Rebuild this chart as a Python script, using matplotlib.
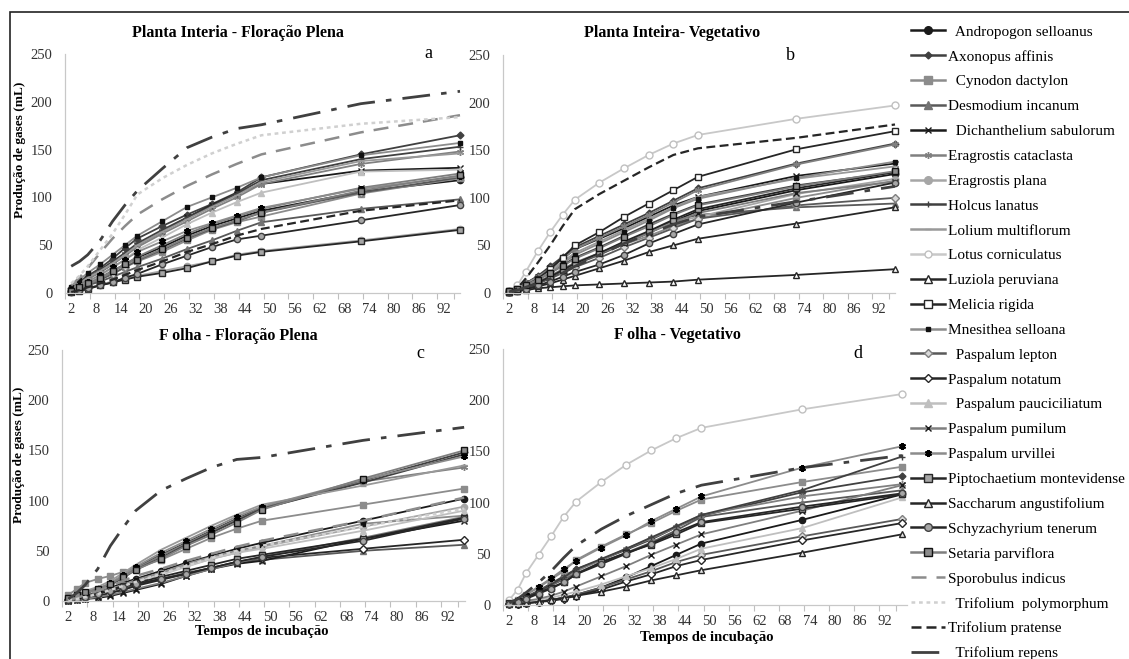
import matplotlib.pyplot as plt
from matplotlib.lines import Line2D
from matplotlib.patches import Rectangle

plt.rcParams['font.family'] = ['Liberation Serif', 'DejaVu Serif']

W, H = 1129, 659

tempos = [2, 4, 6, 9, 12, 15, 18, 24, 30, 36, 42, 48, 72, 96]
x_labels = list(range(2, 93, 6))
y_labels = [0, 50, 100, 150, 200, 250]

especies = ['Andropogon selloanus', 'Axonopus affinis', 'Cynodon dactylon', 'Desmodium incanum',
            'Dichanthelium sabulorum', 'Eragrostis cataclasta', 'Eragrostis plana', 'Holcus lanatus',
            'Lolium multiflorum', 'Lotus corniculatus', 'Luziola peruviana', 'Melicia rigida',
            'Mnesithea selloana', 'Paspalum lepton', 'Paspalum notatum', 'Paspalum pauciciliatum',
            'Paspalum pumilum', 'Paspalum urvillei', 'Piptochaetium montevidense',
            'Saccharum angustifolium', 'Schyzachyrium tenerum', 'Setaria parviflora',
            'Sporobulus indicus', 'Trifolium polymorphum', 'Trifolium pratense', 'Trifolium repens']
# legenda do original (alguns nomes com espaco na frente)
legenda = ['  Andropogon selloanus', 'Axonopus affinis', '  Cynodon dactylon', 'Desmodium incanum',
           '  Dichanthelium sabulorum', 'Eragrostis cataclasta', 'Eragrostis plana', 'Holcus lanatus',
           'Lolium multiflorum', 'Lotus corniculatus', 'Luziola peruviana', 'Melicia rigida',
           'Mnesithea selloana', '  Paspalum lepton', 'Paspalum notatum', '  Paspalum pauciciliatum',
           'Paspalum pumilum', 'Paspalum urvillei', 'Piptochaetium montevidense',
           'Saccharum angustifolium', 'Schyzachyrium tenerum', 'Setaria parviflora',
           'Sporobulus indicus', '  Trifolium  polymorphum', 'Trifolium pratense', '  Trifolium repens']

# a - Planta inteira, floracao plena
planta_floracao = {
    'Andropogon selloanus': [2, 6, 10, 16, 23, 30, 37, 48, 60, 70, 78, 86, 106, 118],
    'Axonopus affinis': [5, 12, 18, 26, 36, 47, 57, 70, 82, 93, 105, 121, 145, 165],
    'Cynodon dactylon': [2, 5, 9, 14, 20, 27, 33, 43, 55, 66, 74, 80, 104, 120],
    'Desmodium incanum': [2, 5, 8, 12, 17, 22, 27, 36, 46, 55, 65, 74, 88, 98],
    'Dichanthelium sabulorum': [2, 8, 15, 22, 30, 40, 50, 64, 79, 92, 104, 114, 128, 131],
    'Eragrostis cataclasta': [3, 9, 14, 22, 30, 39, 48, 62, 75, 88, 100, 114, 135, 148],
    'Eragrostis plana': [1, 3, 5, 9, 12, 15, 18, 23, 28, 33, 40, 44, 55, 67],
    'Holcus lanatus': [4, 10, 16, 24, 33, 42, 52, 66, 79, 91, 104, 118, 140, 153],
    'Lolium multiflorum': [4, 10, 16, 23, 31, 40, 50, 64, 77, 90, 102, 116, 138, 146],
    'Mnesithea selloana': [6, 14, 21, 30, 40, 50, 60, 75, 90, 100, 110, 121, 144, 157],
    'Paspalum lepton': [2, 5, 9, 14, 20, 27, 34, 45, 57, 67, 75, 84, 105, 121],
    'Paspalum pauciciliatum': [2, 6, 11, 18, 26, 35, 45, 58, 72, 84, 95, 105, 127, 129],
    'Paspalum pumilum': [2, 5, 9, 15, 22, 30, 38, 50, 62, 72, 80, 88, 110, 125],
    'Paspalum urvillei': [3, 7, 12, 19, 27, 35, 43, 54, 65, 73, 81, 89, 109, 122],
    'Piptochaetium montevidense': [1, 2, 4, 8, 11, 14, 17, 21, 26, 33, 39, 43, 54, 66],
    'Schyzachyrium tenerum': [1, 3, 5, 8, 11, 16, 20, 30, 39, 48, 56, 60, 76, 92],
    'Setaria parviflora': [2, 6, 10, 16, 23, 30, 35, 46, 58, 68, 76, 84, 107, 123],
    'Sporobulus indicus': [8, 16, 26, 42, 57, 70, 82, 98, 112, 124, 135, 145, 168, 186],
    'Trifolium polymorphum': [10, 18, 28, 45, 62, 82, 103, 120, 134, 146, 156, 165, 177, 184],
    'Trifolium pratense': [1, 3, 6, 10, 14, 19, 24, 33, 43, 51, 60, 67, 86, 97],
    'Trifolium repens': [28, 33, 40, 55, 75, 92, 107, 130, 152, 163, 172, 176, 198, 211],
}

# b - Planta inteira, vegetativo
planta_vegetativo = {
    'Andropogon selloanus': [1, 3, 6, 10, 16, 23, 30, 41, 52, 63, 75, 86, 108, 125],
    'Axonopus affinis': [2, 5, 10, 18, 28, 38, 48, 60, 72, 84, 97, 110, 136, 157],
    'Cynodon dactylon': [1, 3, 6, 11, 17, 24, 31, 41, 51, 60, 70, 78, 100, 118],
    'Desmodium incanum': [1, 3, 6, 11, 17, 24, 30, 40, 52, 64, 76, 82, 90, 94],
    'Dichanthelium sabulorum': [2, 5, 10, 17, 26, 36, 46, 57, 68, 80, 92, 101, 123, 136],
    'Eragrostis cataclasta': [2, 5, 10, 17, 26, 36, 46, 58, 70, 82, 95, 108, 135, 156],
    'Eragrostis plana': [1, 3, 6, 11, 17, 24, 31, 42, 53, 64, 74, 80, 104, 120],
    'Holcus lanatus': [2, 4, 8, 14, 21, 29, 37, 48, 60, 72, 83, 93, 113, 127],
    'Lolium multiflorum': [2, 5, 9, 16, 24, 33, 42, 54, 66, 78, 90, 101, 120, 133],
    'Lotus corniculatus': [2, 8, 22, 44, 64, 82, 98, 116, 131, 145, 157, 166, 183, 197],
    'Luziola peruviana': [1, 2, 3, 5, 6, 7, 8, 9, 10, 11, 12, 14, 19, 25],
    'Melicia rigida': [2, 4, 8, 15, 25, 37, 50, 64, 80, 94, 108, 122, 151, 170],
    'Mnesithea selloana': [2, 4, 8, 14, 22, 31, 40, 52, 64, 76, 89, 99, 121, 138],
    'Paspalum lepton': [1, 3, 6, 10, 15, 21, 27, 37, 48, 58, 68, 78, 92, 100],
    'Paspalum pumilum': [1, 3, 7, 12, 18, 25, 32, 42, 52, 63, 74, 84, 105, 117],
    'Piptochaetium montevidense': [1, 3, 6, 11, 17, 24, 31, 42, 54, 65, 77, 88, 110, 127],
    'Saccharum angustifolium': [1, 2, 4, 7, 10, 14, 18, 26, 34, 43, 50, 57, 73, 90],
    'Schyzachyrium tenerum': [1, 2, 4, 8, 12, 17, 22, 30, 40, 52, 62, 72, 95, 116],
    'Setaria parviflora': [2, 4, 8, 14, 21, 28, 36, 47, 59, 70, 82, 92, 112, 128],
    'Trifolium pratense': [1, 5, 15, 32, 50, 70, 88, 104, 118, 132, 145, 152, 163, 177],
    'Trifolium repens': [1, 3, 6, 10, 15, 21, 28, 40, 52, 62, 72, 80, 96, 112],
}

# c - Folha, floracao plena
folha_floracao = {
    'Andropogon selloanus': [1, 3, 5, 9, 13, 18, 22, 30, 38, 45, 52, 58, 80, 102],
    'Axonopus affinis': [2, 5, 8, 12, 17, 25, 33, 46, 58, 70, 82, 93, 120, 148],
    'Cynodon dactylon': [6, 12, 18, 22, 25, 29, 33, 41, 52, 63, 72, 80, 96, 112],
    'Desmodium incanum': [1, 2, 3, 5, 8, 12, 16, 22, 28, 33, 38, 41, 50, 56],
    'Dichanthelium sabulorum': [0, 1, 2, 3, 5, 8, 11, 17, 25, 32, 37, 40, 62, 80],
    'Eragrostis cataclasta': [2, 5, 8, 12, 17, 24, 32, 45, 57, 69, 81, 92, 119, 133],
    'Eragrostis plana': [1, 3, 5, 8, 12, 16, 20, 28, 35, 42, 48, 54, 74, 94],
    'Holcus lanatus': [2, 5, 8, 11, 16, 23, 31, 43, 56, 68, 80, 92, 118, 146],
    'Lolium multiflorum': [2, 6, 10, 14, 20, 28, 36, 51, 63, 75, 86, 96, 115, 135],
    'Mnesithea selloana': [1, 3, 5, 8, 12, 16, 21, 28, 37, 44, 50, 55, 77, 85],
    'Paspalum notatum': [1, 2, 3, 5, 8, 11, 15, 21, 27, 33, 39, 43, 52, 61],
    'Paspalum pauciciliatum': [1, 2, 4, 7, 10, 14, 18, 26, 34, 42, 48, 52, 70, 90],
    'Paspalum pumilum': [0, 1, 2, 4, 6, 9, 12, 18, 25, 32, 38, 44, 63, 84],
    'Paspalum urvillei': [2, 5, 8, 12, 18, 26, 34, 48, 60, 72, 84, 94, 121, 144],
    'Piptochaetium montevidense': [1, 3, 5, 8, 11, 15, 18, 24, 30, 36, 42, 46, 62, 83],
    'Schyzachyrium tenerum': [1, 2, 4, 7, 10, 14, 17, 22, 27, 33, 39, 44, 60, 82],
    'Setaria parviflora': [3, 6, 9, 12, 17, 24, 31, 42, 55, 66, 78, 91, 122, 150],
    'Sporobulus indicus': [1, 3, 6, 10, 15, 20, 25, 32, 40, 47, 54, 60, 80, 103],
    'Trifolium polymorphum': [1, 2, 4, 7, 11, 15, 19, 27, 35, 43, 50, 55, 74, 92],
    'Trifolium repens': [2, 8, 16, 32, 55, 73, 90, 110, 122, 133, 141, 143, 160, 173],
}

# d - Folha, vegetativo
folha_vegetativo = {
    'Andropogon selloanus': [1, 1, 2, 3, 5, 7, 10, 17, 27, 38, 49, 60, 83, 108],
    'Axonopus affinis': [2, 4, 8, 14, 21, 28, 35, 44, 54, 64, 76, 87, 110, 126],
    'Cynodon dactylon': [2, 5, 10, 17, 25, 33, 44, 57, 69, 80, 92, 103, 120, 135],
    'Desmodium incanum': [2, 4, 8, 13, 19, 25, 31, 41, 51, 61, 73, 86, 100, 112],
    'Eragrostis cataclasta': [2, 4, 8, 13, 20, 26, 33, 44, 55, 65, 76, 88, 106, 118],
    'Holcus lanatus': [2, 4, 8, 13, 20, 27, 35, 45, 55, 66, 77, 88, 112, 145],
    'Lotus corniculatus': [5, 15, 31, 49, 67, 86, 101, 120, 137, 151, 163, 173, 191, 206],
    'Paspalum lepton': [1, 1, 2, 3, 5, 7, 10, 17, 25, 33, 42, 49, 67, 84],
    'Paspalum notatum': [1, 1, 2, 3, 4, 6, 9, 15, 23, 30, 38, 44, 63, 80],
    'Paspalum pauciciliatum': [1, 2, 3, 5, 7, 10, 13, 20, 28, 36, 45, 55, 75, 105],
    'Paspalum pumilum': [1, 2, 4, 6, 9, 13, 18, 28, 38, 49, 59, 69, 92, 117],
    'Paspalum urvillei': [2, 5, 10, 18, 26, 35, 43, 56, 68, 82, 94, 106, 134, 155],
    'Piptochaetium montevidense': [2, 3, 7, 12, 17, 22, 30, 42, 51, 59, 69, 80, 94, 108],
    'Saccharum angustifolium': [1, 1, 2, 3, 5, 7, 9, 13, 18, 24, 29, 34, 51, 69],
    'Schyzachyrium tenerum': [1, 3, 6, 11, 16, 22, 30, 40, 50, 60, 71, 81, 96, 109],
    'Trifolium repens': [2, 6, 12, 22, 33, 46, 58, 74, 87, 98, 109, 117, 134, 146],
}

ASTER = (6, 2, 0)
estilos = {
    'Andropogon selloanus': dict(color='#1a1a1a', marker='o', mfc='#1a1a1a', mec='#1a1a1a'),
    'Axonopus affinis': dict(color='#404040', marker='D', mfc='#404040', mec='#404040', ms=3.5),
    'Cynodon dactylon': dict(color='#8c8c8c', marker='s', mfc='#8c8c8c', mec='#8c8c8c'),
    'Desmodium incanum': dict(color='#595959', marker='^', mfc='#737373', mec='#737373'),
    'Dichanthelium sabulorum': dict(color='#1a1a1a', marker='x', mec='#1a1a1a', ms=5),
    'Eragrostis cataclasta': dict(color='#808080', marker=ASTER, mec='#808080', ms=5),
    'Eragrostis plana': dict(color='#a6a6a6', marker='o', mfc='#a6a6a6', mec='#a6a6a6'),
    'Holcus lanatus': dict(color='#404040', marker='+', mec='#404040', ms=5),
    'Lolium multiflorum': dict(color='#999999', marker='_', mec='#999999', ms=5),
    'Lotus corniculatus': dict(color='#c8c8c8', marker='o', mfc='white', mec='#c0c0c0', ms=5),
    'Luziola peruviana': dict(color='#262626', marker='^', mfc='white', mec='#262626'),
    'Melicia rigida': dict(color='#262626', marker='s', mfc='white', mec='#262626'),
    'Mnesithea selloana': dict(color='#8c8c8c', marker='s', mfc='#111111', mec='#111111', ms=2.8),
    'Paspalum lepton': dict(color='#595959', marker='D', mfc='#d9d9d9', mec='#7f7f7f', ms=3.8),
    'Paspalum notatum': dict(color='#262626', marker='D', mfc='white', mec='#262626', ms=3.8),
    'Paspalum pauciciliatum': dict(color='#bfbfbf', marker='^', mfc='#bfbfbf', mec='#bfbfbf'),
    'Paspalum pumilum': dict(color='#7f7f7f', marker='x', mec='#1a1a1a', ms=5),
    'Paspalum urvillei': dict(color='#8c8c8c', marker=ASTER, mec='#000000', ms=5, mew=1.5),
    'Piptochaetium montevidense': dict(color='#262626', marker='s', mfc='#a6a6a6', mec='#262626'),
    'Saccharum angustifolium': dict(color='#262626', marker='^', mfc='#e6e6e6', mec='#262626'),
    'Schyzachyrium tenerum': dict(color='#262626', marker='o', mfc='#a6a6a6', mec='#404040'),
    'Setaria parviflora': dict(color='#7f7f7f', marker='s', mfc='#8c8c8c', mec='#111111'),
    'Sporobulus indicus': dict(color='#8c8c8c', ls=(0, (6, 4)), lw=1.8),
    'Trifolium polymorphum': dict(color='#d0d0d0', ls=(0, (1.5, 1.5)), lw=1.8),
    'Trifolium pratense': dict(color='#262626', ls=(0, (4, 2)), lw=1.6),
    'Trifolium repens': dict(color='#404040', ls=(0, (10, 4, 2, 4)), lw=2),
}


def px(x, y):
    return x / W, 1 - y / H


def desenha(ax, dados, xlim, ypad):
    for nome in especies:
        if nome not in dados:
            continue
        st = dict(lw=1.3, ms=4.5, ls='-', marker='None')
        st.update(estilos[nome])
        ax.plot(tempos, dados[nome], clip_on=False, **st)
    ax.set_xlim(*xlim)
    ax.set_ylim(0, 250)
    ax.set_yticks(y_labels)
    ax.set_xticks(x_labels)
    ax.set_xticks([v - 1.5 for v in x_labels] + [94.5], minor=True)
    ax.tick_params(axis='x', which='major', length=0, pad=7, labelsize=10.5, labelcolor='#333333')
    ax.tick_params(axis='x', which='minor', length=4, color='#bfbfbf', width=0.8)
    ax.tick_params(axis='y', length=0, pad=ypad, labelsize=10.5, labelcolor='#333333')
    for s in ['top', 'right']:
        ax.spines[s].set_visible(False)
    for s in ['left', 'bottom']:
        ax.spines[s].set_color('#c8c8c8')
        ax.spines[s].set_linewidth(0.9)


slika = plt.figure(figsize=(W / 100, H / 100), dpi=100)

ax_a = slika.add_axes([65 / W, 1 - 293 / H, 395 / W, 239 / H])
ax_b = slika.add_axes([503 / W, 1 - 293 / H, 392 / W, 238 / H])
ax_c = slika.add_axes([62 / W, 1 - 601 / H, 403 / W, 251 / H])
ax_d = slika.add_axes([503 / W, 1 - 605 / H, 404 / W, 256 / H])

desenha(ax_a, planta_floracao, (1, 96), 9)
desenha(ax_b, planta_vegetativo, (1, 96), 9)
desenha(ax_c, folha_floracao, (1.3, 96.2), 9)
desenha(ax_d, folha_vegetativo, (1.8, 97.2), 9)

# titulos e letras
tit = dict(fontsize=11.5, fontweight='bold', ha='center', va='center')
slika.text(*px(238, 33), 'Planta Interia - Floração Plena', **tit)
slika.text(*px(672, 33), 'Planta Inteira- Vegetativo', **tit)
slika.text(*px(238, 336), 'F olha - Floração Plena', **tit)
slika.text(*px(677, 335), 'F olha - Vegetativo', **tit)

let = dict(fontsize=13, ha='center', va='center')
slika.text(*px(428, 53), 'a', **let)
slika.text(*px(790, 55), 'b', **let)
slika.text(*px(420, 353), 'c', **let)
slika.text(*px(858, 353), 'd', **let)

yl = dict(fontsize=9.5, fontweight='bold', rotation=90, ha='center', va='center')
slika.text(*px(20, 150), 'Produção de gases (mL)', **yl)
slika.text(*px(19, 455), 'Produção de gases (mL)', **yl)

xl = dict(fontsize=10.5, fontweight='bold', ha='center', va='center')
slika.text(*px(262, 632), 'Tempos de incubação', **xl)
slika.text(*px(707, 637), 'Tempos de incubação', **xl)

# legenda
handles = []
for nome in especies:
    st = dict(lw=1.8, ms=5.5, ls='-', marker='None')
    st.update(estilos[nome])
    st['lw'] = max(st['lw'], 1.8)
    handles.append(Line2D([], [], **st))
slika.legend(handles, legenda, loc='upper left', bbox_to_anchor=px(911, 25),
             frameon=False, fontsize=11, handlelength=2.2, handletextpad=0.2,
             labelspacing=0.73, borderpad=0, borderaxespad=0)

# moldura
slika.add_artist(Rectangle(px(10, 700), 1.2, (700 - 12) / H, transform=slika.transFigure,
                           fill=False, ec='#222222', lw=1.2))

plt.savefig('out.png', dpi=100)
